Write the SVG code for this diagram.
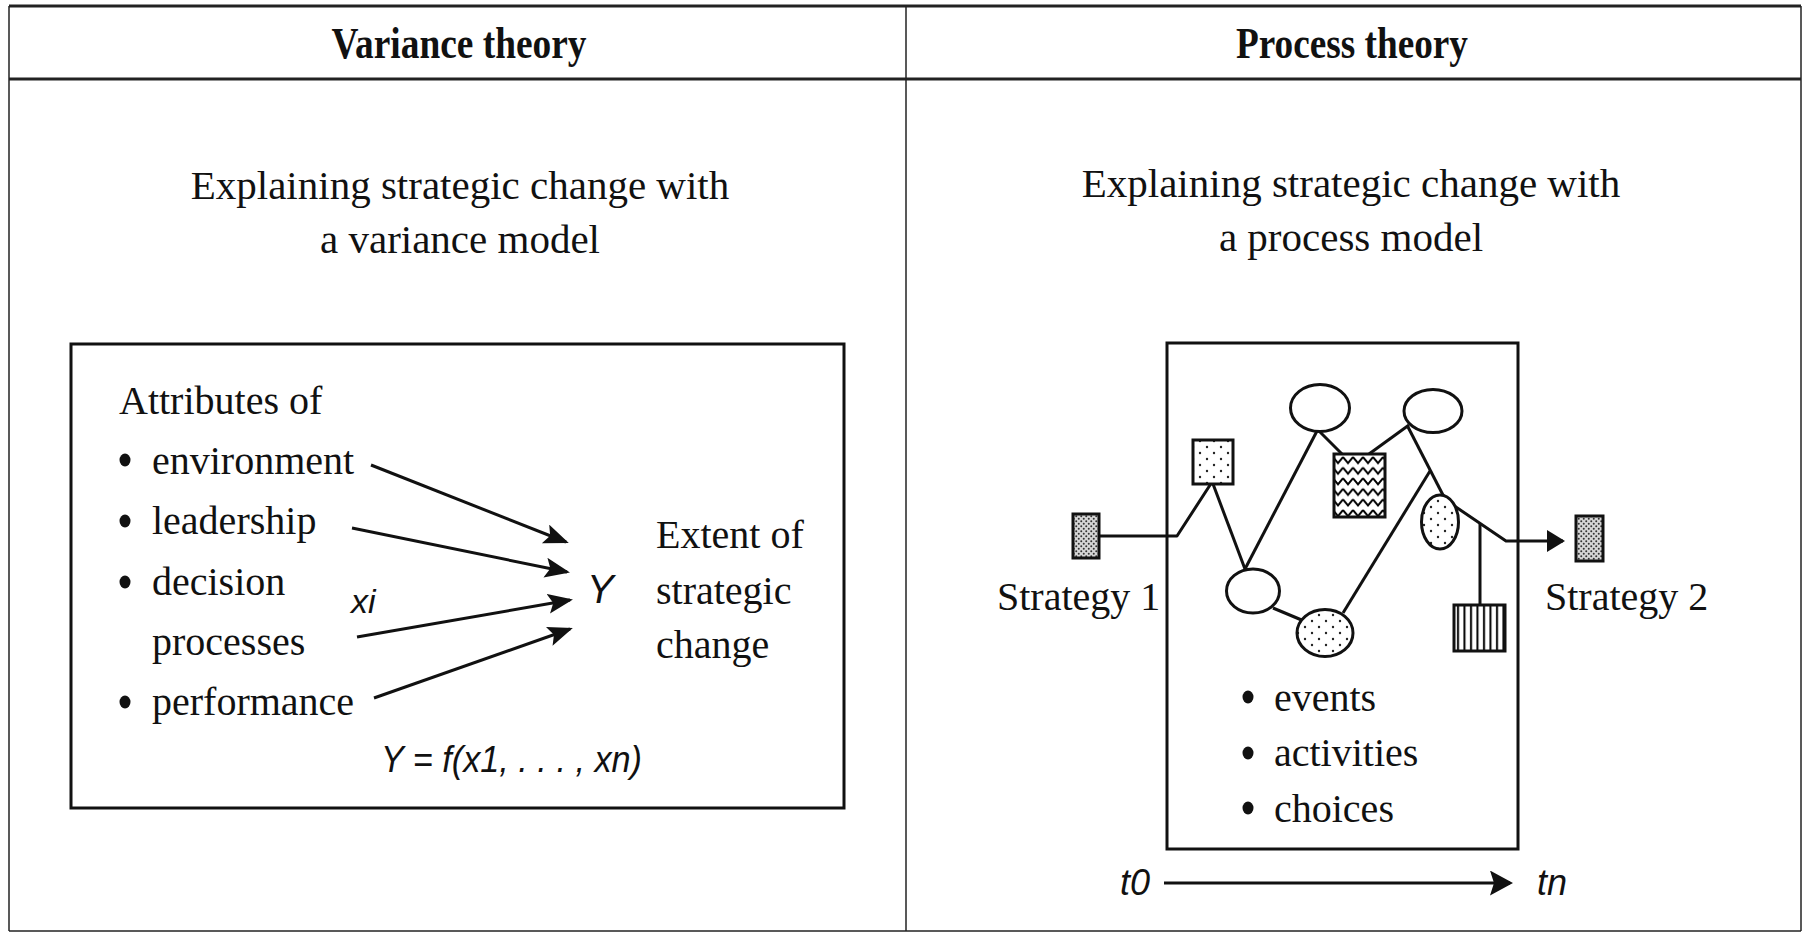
<svg xmlns="http://www.w3.org/2000/svg" width="1806" height="933" viewBox="0 0 1806 933">
<style>
.t{font-family:"Liberation Serif","DejaVu Serif",serif;fill:#111}
.h{font-size:44px;font-weight:bold;text-anchor:middle}
.sub{font-size:41px;text-anchor:middle}
.b{font-size:40px}
.it{font-family:"Liberation Sans","DejaVu Sans",sans-serif;font-style:italic;fill:#111}
.grid{stroke:#222;fill:none}
.conn{stroke:#111;stroke-width:3;fill:none;stroke-linejoin:round}
.shape{stroke:#111;stroke-width:3}
.dot{fill:#111}
</style>
<defs>
<marker id="ah" markerUnits="userSpaceOnUse" markerWidth="28" markerHeight="22" refX="22" refY="10" orient="auto">
<path d="M0,0 L25,10 L0,20 L5,10 z" fill="#111"/>
</marker>
<marker id="ah2" markerUnits="userSpaceOnUse" markerWidth="20" markerHeight="24" refX="16" refY="11" orient="auto">
<path d="M0,0 L18,11 L0,22 z" fill="#111"/>
</marker>
<marker id="ah3" markerUnits="userSpaceOnUse" markerWidth="26" markerHeight="26" refX="20" refY="12.5" orient="auto">
<path d="M0,0 L23,12.5 L0,25 L4,12.5 z" fill="#111"/>
</marker>
<pattern id="dense" width="5" height="5" patternUnits="userSpaceOnUse">
<rect width="5" height="5" fill="#d6d6d6"/>
<circle cx="1.25" cy="1.25" r="1" fill="#333"/>
<circle cx="3.75" cy="3.75" r="1" fill="#333"/>
</pattern>
<pattern id="sparse" width="14" height="12" patternUnits="userSpaceOnUse">
<rect width="14" height="12" fill="#fff"/>
<circle cx="3" cy="3" r="1.2" fill="#222"/>
<circle cx="10" cy="9" r="1.2" fill="#222"/>
</pattern>
<pattern id="zig" width="10" height="10.6" patternUnits="userSpaceOnUse" x="1333" y="455">
<rect width="10" height="10.6" fill="#fff"/>
<path d="M0,2 L5,8 L10,2" stroke="#000" stroke-width="2" fill="none"/>
</pattern>
<pattern id="vstripe" width="6.5" height="10" patternUnits="userSpaceOnUse" x="1455" y="0">
<rect width="6.5" height="10" fill="#fff"/>
<rect x="2" width="2" height="10" fill="#000"/>
</pattern>
</defs>

<g id="table">
<line class="grid" x1="9" y1="6" x2="1801" y2="6" stroke-width="3"/>
<line class="grid" x1="9" y1="79" x2="1801" y2="79" stroke-width="3"/>
<line class="grid" x1="9" y1="931" x2="1801" y2="931" stroke-width="1.5"/>
<line class="grid" x1="9" y1="6" x2="9" y2="931" stroke-width="1.5"/>
<line class="grid" x1="1801" y1="6" x2="1801" y2="931" stroke-width="1.5"/>
<line class="grid" x1="906" y1="6" x2="906" y2="931" stroke-width="1.5"/>
<text class="t h" x="459" y="58" textLength="255" lengthAdjust="spacingAndGlyphs">Variance theory</text>
<text class="t h" x="1352" y="58" textLength="232" lengthAdjust="spacingAndGlyphs">Process theory</text>
<text class="t sub" x="460" y="199">Explaining strategic change with</text>
<text class="t sub" x="460" y="253">a variance model</text>
<text class="t sub" x="1351" y="197">Explaining strategic change with</text>
<text class="t sub" x="1351" y="251">a process model</text>
</g>

<g id="variance-box">
<rect x="71" y="344" width="773" height="464" fill="none" stroke="#111" stroke-width="3"/>
<text class="t b" x="119" y="414">Attributes of</text>
<ellipse class="dot" cx="125" cy="460" rx="5.5" ry="6.5"/>
<ellipse class="dot" cx="125" cy="521" rx="5.5" ry="6.5"/>
<ellipse class="dot" cx="125" cy="582" rx="5.5" ry="6.5"/>
<ellipse class="dot" cx="125" cy="702" rx="5.5" ry="6.5"/>
<text class="t b" x="152" y="474">environment</text>
<text class="t b" x="152" y="534">leadership</text>
<text class="t b" x="152" y="595">decision</text>
<text class="t b" x="152" y="655">processes</text>
<text class="t b" x="152" y="715">performance</text>
<text class="it" x="351" y="613" font-size="34">xi</text>
<text class="it" x="587" y="603" font-size="40">Y</text>
<text class="t b" x="656" y="548">Extent of</text>
<text class="t b" x="656" y="604">strategic</text>
<text class="t b" x="656" y="658">change</text>
<text class="it" x="381" y="772" font-size="36" textLength="261" lengthAdjust="spacingAndGlyphs">Y = f(x1, . . . , xn)</text>
</g>

<g id="variance-arrows">
<line class="conn" stroke-width="2.5" x1="371" y1="465" x2="566" y2="542" marker-end="url(#ah)"/>
<line class="conn" stroke-width="2.5" x1="352" y1="528" x2="567" y2="572" marker-end="url(#ah)"/>
<line class="conn" stroke-width="2.5" x1="357" y1="637" x2="570" y2="600" marker-end="url(#ah)"/>
<line class="conn" stroke-width="2.5" x1="374" y1="698" x2="570" y2="629" marker-end="url(#ah)"/>
</g>

<g id="process-box">
<rect x="1167" y="343" width="351" height="506" fill="none" stroke="#111" stroke-width="3"/>
<ellipse class="dot" cx="1248" cy="697" rx="5.5" ry="6.5"/>
<ellipse class="dot" cx="1248" cy="753" rx="5.5" ry="6.5"/>
<ellipse class="dot" cx="1248" cy="808" rx="5.5" ry="6.5"/>
<text class="t b" x="1274" y="711">events</text>
<text class="t b" x="1274" y="766">activities</text>
<text class="t b" x="1274" y="822">choices</text>
</g>

<g id="connectors">
<polyline class="conn" points="1099,536 1177,536 1212,482"/>
<line class="conn" x1="1213" y1="484" x2="1245" y2="569"/>
<line class="conn" x1="1245" y1="569" x2="1317" y2="431"/>
<line class="conn" x1="1319" y1="431" x2="1342" y2="454"/>
<line class="conn" x1="1369" y1="454" x2="1409" y2="425"/>
<line class="conn" x1="1408" y1="427" x2="1444" y2="497"/>
<polyline class="conn" points="1450,503 1506,541 1563,541" marker-end="url(#ah2)"/>
<line class="conn" x1="1273" y1="608" x2="1304" y2="621"/>
<line class="conn" x1="1343" y1="613" x2="1430" y2="471"/>
<line class="conn" stroke-width="1.8" x1="1480" y1="524" x2="1480" y2="605"/>
<line class="conn" stroke-width="2.2" x1="1164" y1="883" x2="1510" y2="883" marker-end="url(#ah3)"/>
</g>

<g id="strategy1">
<rect class="shape" x="1073" y="514" width="26" height="44" fill="url(#dense)"/>
<text class="t b" x="997" y="610">Strategy 1</text>
</g>
<g id="strategy2">
<rect class="shape" x="1576" y="516" width="27" height="45" fill="url(#dense)"/>
<text class="t b" x="1545" y="610">Strategy 2</text>
</g>
<g id="node-square-dots"><rect class="shape" x="1193" y="440" width="40" height="44" fill="url(#sparse)"/></g>
<g id="node-ellipse-a"><ellipse class="shape" cx="1253" cy="591" rx="26.5" ry="22" fill="#fff"/></g>
<g id="node-ellipse-b"><ellipse class="shape" cx="1320" cy="408" rx="29.5" ry="23.5" fill="#fff"/></g>
<g id="node-wavy"><rect class="shape" x="1334" y="454" width="51" height="63" fill="url(#zig)"/></g>
<g id="node-ellipse-c"><ellipse class="shape" cx="1433" cy="411" rx="29" ry="21.5" fill="#fff"/></g>
<g id="node-ellipse-dots-right"><ellipse class="shape" cx="1440" cy="522" rx="18.5" ry="27" fill="url(#sparse)"/></g>
<g id="node-ellipse-dots-bottom"><ellipse class="shape" cx="1325" cy="633" rx="28" ry="23.5" fill="url(#sparse)"/></g>
<g id="node-striped"><rect class="shape" x="1454" y="605" width="51" height="46" fill="url(#vstripe)"/></g>

<g id="time-axis">
<text class="it" x="1120" y="895" font-size="36">t0</text>
<text class="it" x="1537" y="895" font-size="36">tn</text>
</g>
</svg>
